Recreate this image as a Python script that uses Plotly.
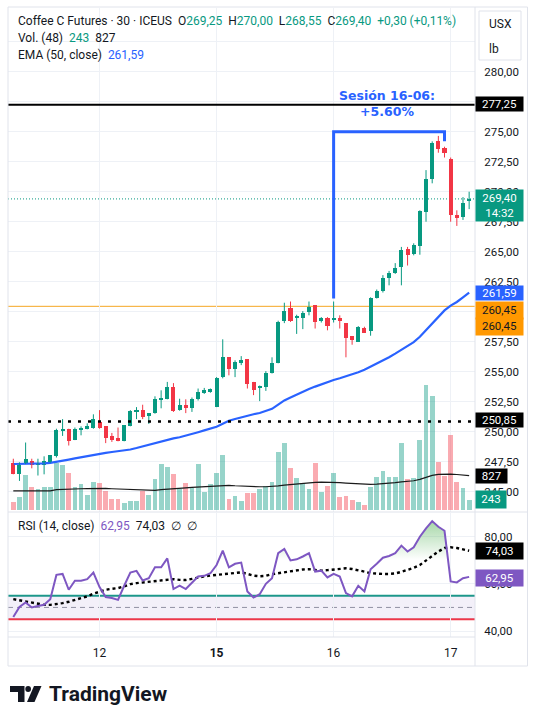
import plotly.graph_objects as go

# ---------------- data (30-min bars, Coffee C Futures, ICEUS) ----------------
opens = [247.40, 246.45, 247.35, 247.55, 247.25, 247.25, 247.45, 247.95, 250.05, 250.25,
         249.30, 250.15, 250.25, 250.35, 250.85, 250.45, 249.65, 249.45, 249.20, 250.45,
         251.65, 251.85, 251.30, 251.55, 252.70, 252.75, 253.70, 251.85, 252.25, 252.00,
         252.70, 253.30, 253.35, 252.05, 254.55, 256.20, 255.25, 255.75, 256.05, 254.15,
         253.65, 253.70, 254.90, 255.75, 259.25, 260.30, 259.55, 259.45, 259.95, 260.55,
         259.25, 259.45, 259.35, 259.45, 259.05, 257.95, 257.50, 258.65, 258.40, 261.15,
         261.70, 262.85, 263.20, 263.75, 265.20, 264.85, 265.50, 268.35, 271.05, 274.20,
         273.65, 272.75, 268.10, 267.90, 269.25]
highs = [247.75, 247.45, 249.10, 247.75, 247.75, 247.95, 248.05, 250.25, 251.05, 250.25,
         250.35, 250.45, 250.70, 251.45, 251.80, 250.45, 249.90, 250.35, 250.55, 251.80,
         252.05, 252.25, 251.55, 252.95, 253.45, 254.15, 254.05, 252.75, 252.70, 252.85,
         253.60, 253.65, 253.60, 254.55, 257.70, 256.20, 255.95, 256.30, 256.05, 254.15,
         253.85, 255.05, 256.20, 259.25, 260.75, 260.85, 259.75, 260.05, 260.85, 260.55,
         259.55, 259.55, 260.85, 259.70, 259.05, 257.95, 258.80, 258.75, 261.20, 261.85,
         263.05, 263.40, 264.05, 265.40, 265.40, 265.70, 268.45, 271.80, 274.20, 274.65,
         273.75, 272.85, 268.45, 269.55, 270.00]
lows = [246.45, 245.90, 247.30, 246.95, 246.35, 246.45, 247.40, 247.85, 249.65, 248.85,
        249.30, 249.70, 250.20, 250.25, 250.25, 249.05, 249.15, 249.20, 249.20, 250.45,
        251.05, 251.05, 250.65, 251.50, 251.95, 252.70, 251.65, 251.75, 251.55, 251.65,
        252.60, 253.15, 253.25, 252.05, 254.45, 254.70, 254.55, 255.55, 253.60, 253.05,
        252.55, 253.40, 254.85, 255.70, 259.05, 259.15, 258.15, 258.55, 259.70, 258.60,
        259.10, 258.45, 259.10, 258.60, 256.20, 257.25, 257.50, 258.25, 258.00, 261.10,
        261.60, 262.20, 263.15, 262.20, 263.85, 264.70, 264.75, 267.50, 270.70, 273.25,
        272.85, 267.50, 267.15, 267.65, 268.55]
closes = [246.45, 247.25, 247.75, 247.20, 247.40, 247.55, 248.05, 250.15, 250.25, 249.25,
          250.20, 250.35, 250.45, 251.05, 250.35, 249.50, 249.30, 249.20, 250.55, 251.70,
          251.85, 251.20, 251.55, 252.75, 252.80, 253.70, 251.75, 252.25, 252.00, 252.70,
          253.30, 253.45, 253.55, 254.45, 256.25, 255.20, 255.80, 255.95, 253.95, 253.45,
          253.85, 254.90, 255.75, 259.15, 260.10, 259.25, 259.65, 259.90, 260.40, 259.15,
          259.45, 258.80, 259.45, 259.20, 257.85, 257.65, 258.75, 258.25, 261.15, 261.70,
          262.85, 263.20, 263.65, 265.15, 264.70, 265.60, 268.40, 271.10, 274.05, 273.60,
          273.25, 268.05, 267.85, 269.10, 269.40]
volumes = [200, 313, 843, 554, 506, 554, 554, 1140, 1084, 892,
           554, 634, 361, 675, 650, 458, 265, 265, 169, 217,
           217, 458, 361, 747, 1108, 1036, 867, 506, 650, 530,
           1120, 442, 634, 900, 1325, 265, 337, 217, 410, 410,
           506, 578, 675, 1398, 1614, 1012, 771, 626, 506, 1133,
           434, 570, 888, 310, 345, 235, 200, 125, 562, 787,
           948, 803, 787, 1622, 747, 763, 1695, 3012, 2755, 1165,
           827, 1815, 683, 538, 243]
vol_ma = [460, 460, 460, 460, 460, 460, 462, 490, 500, 505,
          510, 512, 515, 520, 522, 520, 512, 505, 495, 485,
          478, 472, 468, 475, 490, 505, 515, 525, 535, 545,
          555, 565, 575, 590, 600, 595, 585, 575, 570, 565,
          560, 560, 565, 580, 600, 615, 625, 640, 655, 665,
          672, 672, 668, 660, 650, 640, 630, 622, 620, 622,
          630, 645, 660, 680, 690, 705, 740, 790, 835, 860,
          868, 865, 855, 845, 827]
ema50 = [247.31, 247.31, 247.32, 247.33, 247.34, 247.36, 247.41, 247.48, 247.58, 247.68,
         247.78, 247.88, 247.96, 248.06, 248.16, 248.24, 248.31, 248.36, 248.42, 248.52,
         248.64, 248.78, 248.91, 249.01, 249.14, 249.31, 249.44, 249.54, 249.66, 249.81,
         249.96, 250.11, 250.26, 250.42, 250.66, 250.91, 251.06, 251.21, 251.36, 251.46,
         251.56, 251.71, 251.91, 252.26, 252.61, 252.86, 253.11, 253.36, 253.56, 253.76,
         253.96, 254.11, 254.31, 254.46, 254.61, 254.81, 254.96, 255.16, 255.41, 255.66,
         255.91, 256.21, 256.51, 256.81, 257.11, 257.46, 257.91, 258.46, 259.06, 259.61,
         260.11, 260.51, 260.81, 261.20, 261.59]
rsi = [45.9, 50.2, 52.1, 50.0, 50.6, 51.1, 53.5, 63.8, 64.2, 57.5,
       61.3, 61.3, 62.0, 64.8, 58.6, 54.4, 54.0, 53.2, 59.2, 64.8,
       65.5, 61.4, 62.4, 67.0, 67.0, 70.8, 57.8, 59.2, 57.8, 60.6,
       63.1, 63.4, 64.5, 68.0, 74.1, 67.0, 68.5, 69.0, 56.8, 54.2,
       55.6, 60.0, 62.4, 73.0, 74.8, 69.9, 70.4, 71.6, 73.0, 65.2,
       65.6, 62.7, 64.2, 63.1, 56.1, 54.7, 59.2, 56.8, 66.2, 68.5,
       71.1, 71.8, 73.0, 76.2, 73.7, 75.5, 80.0, 83.5, 86.6, 84.2,
       82.5, 61.0, 60.6, 62.4, 62.95]
rsi_ma = [53.5, 53.0, 52.4, 51.8, 51.3, 51.1, 51.1, 51.4, 51.8, 52.4,
          53.2, 53.8, 54.7, 55.8, 56.8, 57.5, 57.9, 58.2, 58.9, 59.9,
          60.3, 60.6, 60.9, 61.3, 61.7, 62.0, 62.0, 61.7, 61.6, 62.1,
          62.8, 63.2, 63.5, 63.8, 64.1, 64.4, 64.9, 64.9, 64.2, 63.5,
          63.2, 63.4, 64.1, 64.5, 65.1, 65.6, 65.9, 66.1, 66.2, 65.9,
          65.6, 65.8, 66.1, 66.5, 66.6, 66.3, 65.9, 65.2, 64.5, 64.2,
          64.2, 64.2, 64.4, 65.1, 65.8, 66.8, 68.0, 69.9, 71.8, 73.7,
          75.2, 75.5, 75.2, 74.6, 74.03]
day_start_bars = [14, 33, 52, 71]
day_labels = ["12", "<b>15</b>", "16", "17"]
price_ticks = [245.0, 247.5, 250.0, 252.5, 255.0, 257.5, 260.0, 262.5, 265.0,
               267.5, 270.0, 272.5, 275.0, 277.5, 280.0, 282.5]
rsi_ticks = [40, 60, 80]
level_black = 277.25
level_orange = 260.45
level_dotted = 250.85
rsi_upper, rsi_mid, rsi_lower = 55, 50, 45
session_start, session_end = 52, 70
session_text = "Sesión 16-06:<br>+5.60%"

# ---------------- style ----------------
FONT = "Roboto"
TXT = "#131722"
UP = "#089981"
DN = "#F23645"
GRID = "#eef1f6"
BORDER = "#e0e3eb"
W, H = 536, 711
ML, MR, MT, MB = 8, 61, 8, 74
PW, PH = W - ML - MR, H - MT - MB
BOT = H - MB


def pxx(x):
    return (x - ML) / PW


def pxy(y):
    return (BOT - y) / PH


def fmt(v):
    return f"{v:.2f}".replace(".", ",")


n = len(closes)
idx = list(range(n))
up = [i for i in idx if closes[i] >= opens[i]]
dn = [i for i in idx if closes[i] < opens[i]]

fig = go.Figure()

# volume
for sel, col in ((up, "rgba(8,153,129,0.42)"), (dn, "rgba(242,54,69,0.42)")):
    fig.add_trace(go.Bar(x=sel, y=[volumes[i] for i in sel], width=0.78,
                         marker=dict(color=col, line=dict(width=0)),
                         xaxis="x2", yaxis="y2", hoverinfo="skip"))
fig.add_trace(go.Scatter(x=idx, y=vol_ma, mode="lines", line=dict(color="#1b1b1b", width=1.2),
                         xaxis="x2", yaxis="y2", hoverinfo="skip"))

# EMA
fig.add_trace(go.Scatter(x=idx, y=ema50, mode="lines", line=dict(color="#2962FF", width=2.2),
                         xaxis="x2", yaxis="y", hoverinfo="skip"))

# candles: wicks + bodies
for sel, col in ((up, UP), (dn, DN)):
    wx, wy = [], []
    for i in sel:
        wx += [i, i, None]
        wy += [lows[i], highs[i], None]
    fig.add_trace(go.Scatter(x=wx, y=wy, mode="lines", line=dict(color=col, width=1),
                             xaxis="x2", yaxis="y", hoverinfo="skip"))
    fig.add_trace(go.Bar(x=sel, base=[min(opens[i], closes[i]) for i in sel],
                         y=[max(abs(closes[i] - opens[i]), 0.09) for i in sel], width=0.66,
                         marker=dict(color=col, line=dict(width=0)),
                         xaxis="x2", yaxis="y", hoverinfo="skip"))

# RSI gradient fill above 70
fig.add_trace(go.Scatter(x=idx, y=[70] * n, mode="lines", line=dict(width=0, color="rgba(0,0,0,0)"),
                         xaxis="x", yaxis="y3", hoverinfo="skip"))
fig.add_trace(go.Scatter(x=idx, y=rsi, mode="lines", line=dict(width=0, color="rgba(0,0,0,0)"),
                         fill="tonexty",
                         fillgradient=dict(type="vertical",
                                           colorscale=[[0, "rgba(76,175,80,0)"], [1, "rgba(76,175,80,0.9)"]],
                                           start=70, stop=100),
                         xaxis="x", yaxis="y3", hoverinfo="skip"))
fig.add_trace(go.Scatter(x=idx, y=rsi_ma, mode="lines",
                         line=dict(color="#000000", width=2.4, dash="3px,3px"),
                         xaxis="x", yaxis="y3", hoverinfo="skip"))
fig.add_trace(go.Scatter(x=idx, y=rsi, mode="lines", line=dict(color="#7E57C2", width=2),
                         xaxis="x", yaxis="y3", hoverinfo="skip"))

shapes = []
# RSI band & levels
shapes.append(dict(type="rect", xref="x", yref="y3", x0=-0.86, x1=74.95, y0=rsi_lower, y1=rsi_upper,
                   fillcolor="rgba(126,87,194,0.09)", line=dict(width=0), layer="below"))
shapes.append(dict(type="line", xref="paper", yref="y3", x0=0, x1=1, y0=rsi_upper, y1=rsi_upper,
                   line=dict(color="#1a9a88", width=2), layer="below"))
shapes.append(dict(type="line", xref="paper", yref="y3", x0=0, x1=1, y0=rsi_lower, y1=rsi_lower,
                   line=dict(color="#F23645", width=2), layer="below"))
shapes.append(dict(type="line", xref="paper", yref="y3", x0=0, x1=1, y0=rsi_mid, y1=rsi_mid,
                   line=dict(color="#9598a1", width=1, dash="5px,4px"), layer="below"))
# price levels
shapes.append(dict(type="line", xref="paper", yref="y", x0=0, x1=1, y0=level_orange, y1=level_orange,
                   line=dict(color="#F5A623", width=1), layer="below"))
shapes.append(dict(type="line", xref="paper", yref="y", x0=0, x1=1, y0=closes[-1], y1=closes[-1],
                   line=dict(color=UP, width=1, dash="1px,2px"), layer="below"))
shapes.append(dict(type="line", xref="paper", yref="y", x0=0, x1=1, y0=level_black, y1=level_black,
                   line=dict(color="#000000", width=2), layer="above"))
shapes.append(dict(type="line", xref="paper", yref="y", x0=0, x1=1, y0=level_dotted, y1=level_dotted,
                   line=dict(color="#000000", width=2.5, dash="3px,7px"), layer="above"))
# session bracket (drawn above the session's highs)
top = max(highs[session_start:session_end + 1]) + 0.35
shapes.append(dict(type="path", xref="x2", yref="y",
                   path=(f"M {session_start},{highs[session_start] + 0.25} L {session_start},{top} "
                         f"L {session_end},{top} L {session_end},{highs[session_end] + 0.45}"),
                   line=dict(color="#2962FF", width=3), layer="above"))

# frame & separators
shapes.append(dict(type="rect", xref="paper", yref="paper", x0=pxx(8), x1=pxx(527.5), y0=pxy(666), y1=pxy(7),
                   line=dict(color=BORDER, width=1), fillcolor="rgba(0,0,0,0)", layer="above"))
shapes.append(dict(type="line", xref="paper", yref="paper", x0=1, x1=1, y0=pxy(666), y1=pxy(7),
                   line=dict(color=BORDER, width=1), layer="above"))
shapes.append(dict(type="line", xref="paper", yref="paper", x0=pxx(8), x1=pxx(527.5), y0=pxy(512), y1=pxy(512),
                   line=dict(color=BORDER, width=1), layer="above"))
shapes.append(dict(type="line", xref="paper", yref="paper", x0=0, x1=1, y0=pxy(637), y1=pxy(637),
                   line=dict(color=BORDER, width=1), layer="above"))
# USX / lb box
shapes.append(dict(type="rect", xref="paper", yref="paper", x0=pxx(479), x1=pxx(521), y0=pxy(60), y1=pxy(11),
                   line=dict(color=BORDER, width=1), fillcolor="white", layer="above"))


# TradingView logo
def path(points):
    return "M " + " L ".join(f"{pxx(a)},{pxy(b)}" for a, b in points) + " Z"


shapes.append(dict(type="path", xref="paper", yref="paper",
                   path=path([(10, 686), (24.5, 686), (24.5, 702), (18, 702), (18, 692), (10, 692)]),
                   fillcolor="#131722", line=dict(width=0), layer="above"))
shapes.append(dict(type="circle", xref="paper", yref="paper", x0=pxx(25.3), x1=pxx(31), y0=pxy(692), y1=pxy(686),
                   fillcolor="#131722", line=dict(width=0), layer="above"))
shapes.append(dict(type="path", xref="paper", yref="paper",
                   path=path([(34, 686), (41.5, 686), (34.5, 702), (27, 702)]),
                   fillcolor="#131722", line=dict(width=0), layer="above"))

ann = []


def legend(text, y):
    ann.append(dict(text=text, xref="paper", yref="paper", x=pxx(16), y=pxy(y), xanchor="left",
                    yanchor="middle", showarrow=False, font=dict(family=FONT, size=12, color=TXT)))


o, h, l, c = opens[-1], highs[-1], lows[-1], closes[-1]
chg = c - closes[-2]
pct = chg / closes[-2] * 100
vcol = UP if c >= o else DN
sp = "\u00a0"
legend(f"Coffee C Futures · 30 · ICEUS{sp}{sp}O<span style='color:{vcol}'>{fmt(o)}</span>{sp}{sp}"
       f"H<span style='color:{vcol}'>{fmt(h)}</span>{sp}{sp}L<span style='color:{vcol}'>{fmt(l)}</span>{sp}{sp}"
       f"C<span style='color:{vcol}'>{fmt(c)}</span>{sp}{sp}"
       f"<span style='color:{vcol}'>{'+' if chg >= 0 else ''}{fmt(chg)} ({'+' if pct >= 0 else ''}{fmt(pct)}%)</span>", 21)
legend(f"Vol. (48){sp}{sp}<span style='color:{vcol}'>{volumes[-1]}</span>{sp}{sp}{vol_ma[-1]}", 38)
legend(f"EMA (50, close){sp}{sp}<span style='color:#2962FF'>{fmt(ema50[-1])}</span>", 55)
legend(f"RSI (14, close){sp}{sp}<span style='color:#7E57C2'>{fmt(rsi[-1])}</span>{sp}{sp}{fmt(rsi_ma[-1])}{sp}{sp}∅{sp}{sp}∅", 526)

# USX lb
for t, y in (("USX", 24), ("lb", 49)):
    ann.append(dict(text=t, xref="paper", yref="paper", x=pxx(487), y=pxy(y), xanchor="left", yanchor="middle",
                    showarrow=False, font=dict(family=FONT, size=12, color=TXT)))


def tag(text, y, yref, bg, fg, yshift=0, w=45, h=12):
    ann.append(dict(text=text, xref="paper", x=1, xanchor="left", y=y, yref=yref, yanchor="middle",
                    yshift=yshift, showarrow=False, bgcolor=bg, width=w, height=h, borderpad=1,
                    align="center", font=dict(family=FONT, size=11.5, color=fg)))


tag(fmt(level_black), level_black, "y", "#000000", "#ffffff", 1)
tag(f"{fmt(closes[-1])}<br>14:32", closes[-1], "y", UP, "#ffffff", -6.5, 45, 28.5)
tag(fmt(ema50[-1]), ema50[-1], "y", "#2962FF", "#ffffff", 0)
tag(fmt(level_orange), level_orange, "y", "#FF9800", TXT, -4, 45, 14.6)
tag(fmt(level_orange), level_orange, "y", "#FF9800", TXT, -20.6, 45, 14.6)
tag(fmt(level_dotted), level_dotted, "y", "#000000", "#ffffff", 1.5)
tag(str(vol_ma[-1]), vol_ma[-1], "y2", "#000000", "#ffffff", 0, 29)
tag(str(volumes[-1]), volumes[-1], "y2", UP, "#ffffff", 0, 28, 14.5)
tag(fmt(rsi_ma[-1]), rsi_ma[-1], "y3", "#000000", "#ffffff", 0, 45, 14)
tag(fmt(rsi[-1]), rsi[-1], "y3", "#7E57C2", "#ffffff", -1.5, 45, 14)

# session label
ann.append(dict(text=session_text, xref="x2", yref="y", x=(session_start + session_end) / 2 - 0.3,
                y=level_black + 0.1, xanchor="center", yanchor="middle", showarrow=False,
                font=dict(family="DejaVu Sans", size=12.5, color="#2962FF", weight="bold")))

# TradingView wordmark
ann.append(dict(text="<b>TradingView</b>", xref="paper", yref="paper", x=pxx(47), y=pxy(694),
                xanchor="left", yanchor="middle", showarrow=False,
                font=dict(family="Roboto", size=21, color="#131722")))

axis_font = dict(family=FONT, size=11.5, color=TXT)
fig.update_layout(
    width=W, height=H, margin=dict(l=ML, r=MR, t=MT, b=MB),
    paper_bgcolor="white", plot_bgcolor="white", showlegend=False,
    separators=",.", barmode="overlay", bargap=0,
    shapes=shapes, annotations=ann,
    xaxis=dict(domain=[0, 1], range=[-0.86, 74.95], anchor="y3", tickvals=day_start_bars,
               ticktext=day_labels, showgrid=True, gridcolor=GRID, zeroline=False, showline=False,
               ticks="outside", ticklen=5, tickcolor="rgba(0,0,0,0)",
               tickfont=dict(family=FONT, size=12, color=TXT), fixedrange=True),
    xaxis2=dict(domain=[0, 1], matches="x", anchor="y", tickvals=day_start_bars, showticklabels=False,
                showgrid=True, gridcolor=GRID, zeroline=False, showline=False, ticks=""),
    yaxis=dict(domain=[pxy(512), 1], range=[243.31, 285.31], side="right", anchor="x2",
               tickvals=price_ticks, tickformat=".2f", showgrid=True, gridcolor=GRID, zeroline=False,
               showline=False, ticks="outside", ticklen=6, tickcolor="rgba(0,0,0,0)", tickfont=axis_font),
    yaxis2=dict(overlaying="y", range=[-48, 12096], visible=False, anchor="x2"),
    yaxis3=dict(domain=[0, pxy(513)], range=[37.46, 90.04], side="right", anchor="x",
                tickvals=rsi_ticks, tickformat=".2f", showgrid=True, gridcolor=GRID, zeroline=False,
                showline=False, ticks="outside", ticklen=6, tickcolor="rgba(0,0,0,0)", tickfont=axis_font),
)

fig.write_html("out.html")
